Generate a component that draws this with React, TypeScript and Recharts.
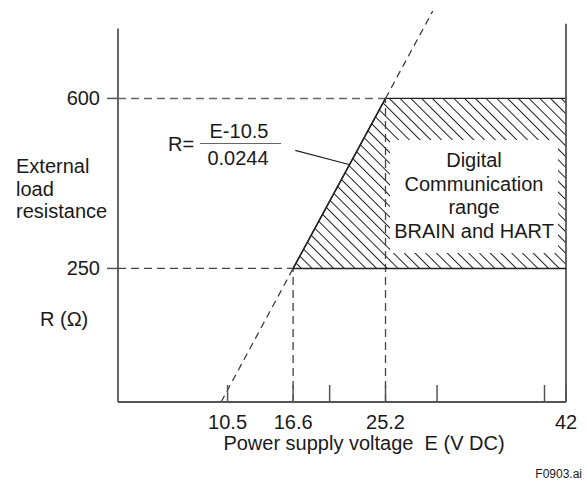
import {
  Area,
  ComposedChart,
  Customized,
  Line,
  ReferenceLine,
  XAxis,
  YAxis,
} from "recharts";

// power supply voltage E (V DC) vs external load resistance R (ohm)
const xTicks = [10.5, 16.6, 20, 25.2, 30, 40, 42];
const xTickLabels = ["10.5", "16.6", "", "25.2", "", "", "42"];
const yTicks = [250, 600];
const yTickLabels = ["250", "600"];

// R = (E - 10.5) / 0.0244, split where it meets 250 and 600 ohm
const lowerE = [9.9, 16.6];
const lowerR = [-25, 250];
const mainE = [16.6, 25.2];
const mainR = [250, 600];
const upperE = [25.2, 29.6];
const upperR = [600, 780];

// hatched communication range: under the load line and R <= 600, above 250
const rangeE = [16.6, 25.2, 42];
const rangeR = [250, 600, 600];

const boxLines = ["Digital", "Communication", "range", "BRAIN and HART"];
const yLabelLines = ["External", "load", "resistance"];

const X_DOMAIN: [number, number] = [0.3, 42];
const Y_DOMAIN: [number, number] = [-25, 780];

const toRows = (es: number[], rs: number[]) =>
  es.map((e, i) => ({ E: e, R: rs[i] }));

const FONT = "Liberation Sans, Arial, Helvetica, sans-serif";
const AXIS = "#555";
const INK = "#222";
const TEXT = "#1a1a1a";

function XTick({ x, y, payload }: any) {
  const i = xTicks.indexOf(payload.value);
  return (
    <g>
      <line x1={x} y1={y} x2={x} y2={y - 17} stroke={AXIS} strokeWidth={1.5} />
      <text x={x} y={y + 27} textAnchor="middle" fontSize={20} fill={TEXT} fontFamily={FONT}>
        {i >= 0 ? xTickLabels[i] : ""}
      </text>
    </g>
  );
}

function YTick({ x, y, payload }: any) {
  const i = yTicks.indexOf(payload.value);
  return (
    <g>
      <line x1={x - 11} y1={y} x2={x} y2={y} stroke={AXIS} strokeWidth={1.5} />
      <text x={x - 18} y={y + 7} textAnchor="end" fontSize={20} fill={TEXT} fontFamily={FONT}>
        {i >= 0 ? yTickLabels[i] : ""}
      </text>
    </g>
  );
}

function Overlay() {
  return (
    <g fontFamily={FONT} fill={TEXT}>
      <defs>
        <pattern
          id="hatch"
          patternUnits="userSpaceOnUse"
          width={7.6}
          height={7.6}
          patternTransform="rotate(-45)"
        >
          <line x1={0} y1={0} x2={0} y2={7.6} stroke="#1e1e1e" strokeWidth={2} />
        </pattern>
      </defs>
      {yLabelLines.map((t, i) => (
        <text key={t} x={16} y={173 + i * 22.5} fontSize={20}>
          {t}
        </text>
      ))}
      <text x={40} y={326} fontSize={20}>
        R (Ω)
      </text>
      {/* formula */}
      <text x={168} y={151} fontSize={20}>
        R=
      </text>
      <text x={239} y={138} textAnchor="middle" fontSize={20}>
        E-10.5
      </text>
      <line x1={200} y1={143.5} x2={281} y2={143.5} stroke="#666" strokeWidth={1.2} />
      <text x={238} y={165} textAnchor="middle" fontSize={20}>
        0.0244
      </text>
      <text
        x={364}
        y={450}
        textAnchor="middle"
        fontSize={20}
        style={{ whiteSpace: "pre" }}
      >
        {"Power supply voltage  E (V DC)"}
      </text>
      <text x={582} y={478} textAnchor="end" fontSize={12}>
        F0903.ai
      </text>
    </g>
  );
}

export default function App() {
  return (
    <div
      style={{
        position: "absolute",
        left: 0,
        top: 0,
        width: 587,
        height: 481,
        background: "#fff",
      }}
    >
      <ComposedChart
        width={587}
        height={481}
        margin={{ top: 11, right: 21, bottom: 49, left: 58 }}
      >
        <XAxis
          type="number"
          dataKey="E"
          domain={X_DOMAIN}
          allowDataOverflow
          ticks={xTicks}
          interval={0}
          tickLine={false}
          tickSize={0}
          tickMargin={0}
          height={30}
          axisLine={{ stroke: AXIS, strokeWidth: 1.8 }}
          tick={<XTick />}
        />
        <YAxis
          type="number"
          dataKey="R"
          domain={Y_DOMAIN}
          allowDataOverflow
          ticks={yTicks}
          interval={0}
          width={60}
          tickLine={false}
          tickSize={0}
          tickMargin={0}
          axisLine={false}
          tick={<YTick />}
        />
        <Area
          data={toRows(rangeE, rangeR)}
          dataKey="R"
          type="linear"
          baseValue={250}
          fill="url(#hatch)"
          fillOpacity={1}
          stroke={INK}
          strokeWidth={1.3}
          isAnimationActive={false}
        />
        <Customized component={Overlay} />
        {/* axes drawn as segments so they stop below the plot top */}
        <ReferenceLine
          segment={[{ x: 0.3, y: -25 }, { x: 0.3, y: 744 }]}
          stroke={AXIS}
          strokeWidth={1.8}
          ifOverflow="visible"
        />
        <ReferenceLine
          segment={[{ x: 42, y: -25 }, { x: 42, y: 754 }]}
          stroke={AXIS}
          strokeWidth={1.8}
          ifOverflow="visible"
        />
        {/* guide lines */}
        <ReferenceLine
          segment={[{ x: 0.3, y: 600 }, { x: 25.2, y: 600 }]}
          stroke="#666"
          strokeWidth={1.6}
          strokeDasharray="8 5"
          ifOverflow="visible"
        />
        <ReferenceLine
          segment={[{ x: 0.3, y: 250 }, { x: 16.6, y: 250 }]}
          stroke="#444"
          strokeWidth={1.3}
          strokeDasharray="8 5"
          ifOverflow="visible"
        />
        <ReferenceLine
          segment={[{ x: 16.6, y: -25 }, { x: 16.6, y: 250 }]}
          stroke="#444"
          strokeWidth={1.3}
          strokeDasharray="8 5"
          ifOverflow="visible"
        />
        <ReferenceLine
          segment={[{ x: 25.2, y: -25 }, { x: 25.2, y: 600 }]}
          stroke="#444"
          strokeWidth={1.3}
          strokeDasharray="8 5"
          ifOverflow="visible"
        />
        <ReferenceLine
          segment={[{ x: 16.6, y: 250 }, { x: 42, y: 250 }]}
          stroke={INK}
          strokeWidth={1.5}
          ifOverflow="visible"
        />
        {/* leader from the formula to the load line */}
        <ReferenceLine
          segment={[{ x: 16.8, y: 493 }, { x: 21.8, y: 464 }]}
          stroke={INK}
          strokeWidth={1.2}
          ifOverflow="visible"
        />
        <Line
          data={toRows(lowerE, lowerR)}
          dataKey="R"
          type="linear"
          stroke="#333"
          strokeWidth={1.2}
          strokeDasharray="7 5"
          dot={false}
          isAnimationActive={false}
        />
        <Line
          data={toRows(mainE, mainR)}
          dataKey="R"
          type="linear"
          stroke={INK}
          strokeWidth={1.4}
          dot={false}
          isAnimationActive={false}
        />
        <Line
          data={toRows(upperE, upperR)}
          dataKey="R"
          type="linear"
          stroke="#333"
          strokeWidth={1.2}
          strokeDasharray="7 5"
          dot={false}
          isAnimationActive={false}
        />
      </ComposedChart>
      {/* white label box laid over the hatching */}
      <div
        style={{
          position: "absolute",
          left: 390,
          top: 140,
          width: 168,
          height: 113,
          background: "#fff",
          boxSizing: "border-box",
          paddingTop: 9.3,
          fontFamily: FONT,
          fontSize: 20,
          lineHeight: "23.6px",
          color: TEXT,
          textAlign: "center",
          whiteSpace: "nowrap",
        }}
      >
        {boxLines.map((t) => (
          <div key={t}>{t}</div>
        ))}
      </div>
    </div>
  );
}
